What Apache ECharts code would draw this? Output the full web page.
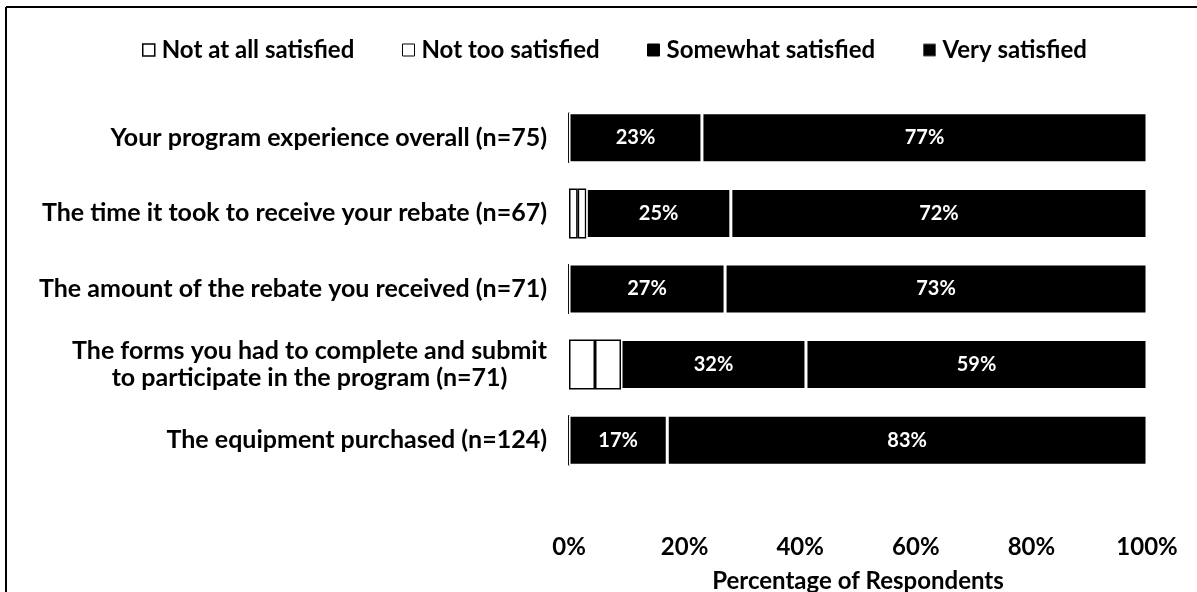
<!DOCTYPE html>
<html>
<head>
<meta charset="utf-8">
<script src="https://cdn.jsdelivr.net/npm/echarts@6/dist/echarts.min.js"></script>
<style>
  html, body { margin: 0; padding: 0; background: #fff; }
  #chart { width: 1197px; height: 592px; }
</style>
</head>
<body>
<div id="chart"></div>
<script>
// Satisfaction with program elements (percent of respondents)
const categories = [
  'Your program experience overall (n=75)',
  'The time it took to receive your rebate (n=67)',
  'The amount of the rebate you received (n=71)',
  'The forms you had to complete and submit\nto participate in the program (n=71)',
  'The equipment purchased (n=124)'
];
const seriesNames = ['Not at all satisfied', 'Not too satisfied', 'Somewhat satisfied', 'Very satisfied'];
const notAtAll   = [0, 1.5, 0, 4.5, 0];
const notToo     = [0, 1.5, 0, 4.5, 0];
const somewhat   = [23, 25, 27, 32, 17];
const very       = [77, 72, 73, 59, 83];
const xTicks = [0, 20, 40, 60, 80, 100];

const FONT = 'Lato, "Open Sans", sans-serif';
const chart = echarts.init(document.getElementById('chart'));

const whiteSeg = { color: '#fff', borderColor: '#000', borderWidth: 1.5 };
const blackSeg = { color: '#000', borderColor: '#fff', borderWidth: 1.5 };
const segLabel = {
  show: true, position: 'inside', color: '#fff',
  fontFamily: FONT, fontWeight: 'bold', fontSize: 20,
  formatter: p => p.value + '%'
};

function legendAt(name, left, style) {
  return {
    data: [{ name: name, icon: 'rect', itemStyle: style }],
    left: left, top: 33, itemWidth: 12, itemHeight: 12, itemGap: 6,
    textStyle: { fontFamily: FONT, fontWeight: 'bold', fontSize: 24, color: '#000', padding: [0, 0, 0, 2] },
    selectedMode: false
  };
}

// Category labels: lines of a wrapped label are centred on each other
function catLabel(v) {
  return v.split('\n').map(s => '{c|' + s + '}').join('\n');
}

chart.setOption({
  animation: false,
  backgroundColor: '#fff',
  legend: [
    legendAt(seriesNames[0], 137, { color: '#fff', borderColor: '#000', borderWidth: 1.5 }),
    legendAt(seriesNames[1], 397, { color: '#fff', borderColor: '#000', borderWidth: 1 }),
    legendAt(seriesNames[2], 642, { color: '#000', borderColor: '#000', borderWidth: 1 }),
    legendAt(seriesNames[3], 918, { color: '#000', borderColor: '#555', borderWidth: 1 })
  ],
  grid: { left: 569, right: 50, top: 100, bottom: 114, outerBoundsMode: 'none', containLabel: false },
  xAxis: {
    type: 'value', min: 0, max: 100, interval: 20,
    axisLine: { show: false }, axisTick: { show: false }, splitLine: { show: false },
    axisLabel: {
      formatter: v => (xTicks.includes(v) ? v + '%' : ''),
      fontFamily: FONT, fontWeight: 'bold', fontSize: 24, color: '#000', margin: 57
    },
    name: 'Percentage of Respondents', nameLocation: 'middle', nameGap: 91,
    nameTextStyle: { fontFamily: FONT, fontWeight: 'bold', fontSize: 24, color: '#000' }
  },
  yAxis: {
    type: 'category', data: categories, inverse: true,
    axisLine: { show: false }, axisTick: { show: false },
    axisLabel: {
      formatter: catLabel,
      margin: 22, align: 'right',
      rich: {
        c: { fontFamily: FONT, fontWeight: 'bold', fontSize: 25, color: '#000', lineHeight: 27, align: 'center' }
      }
    }
  },
  series: [
    { name: seriesNames[0], type: 'bar', stack: 's', data: notAtAll, barWidth: 50, itemStyle: whiteSeg },
    { name: seriesNames[1], type: 'bar', stack: 's', data: notToo, barWidth: 50, itemStyle: whiteSeg },
    { name: seriesNames[2], type: 'bar', stack: 's', data: somewhat, barWidth: 50, itemStyle: blackSeg, label: segLabel },
    { name: seriesNames[3], type: 'bar', stack: 's', data: very, barWidth: 50, itemStyle: blackSeg, label: segLabel }
  ],
  graphic: [
    { type: 'line', shape: { x1: 6, y1: 7, x2: 1197, y2: 7 }, style: { stroke: '#000', lineWidth: 2 } },
    { type: 'line', shape: { x1: 6, y1: 7, x2: 6, y2: 592 }, style: { stroke: '#000', lineWidth: 2 } }
  ]
});
</script>
</body>
</html>
